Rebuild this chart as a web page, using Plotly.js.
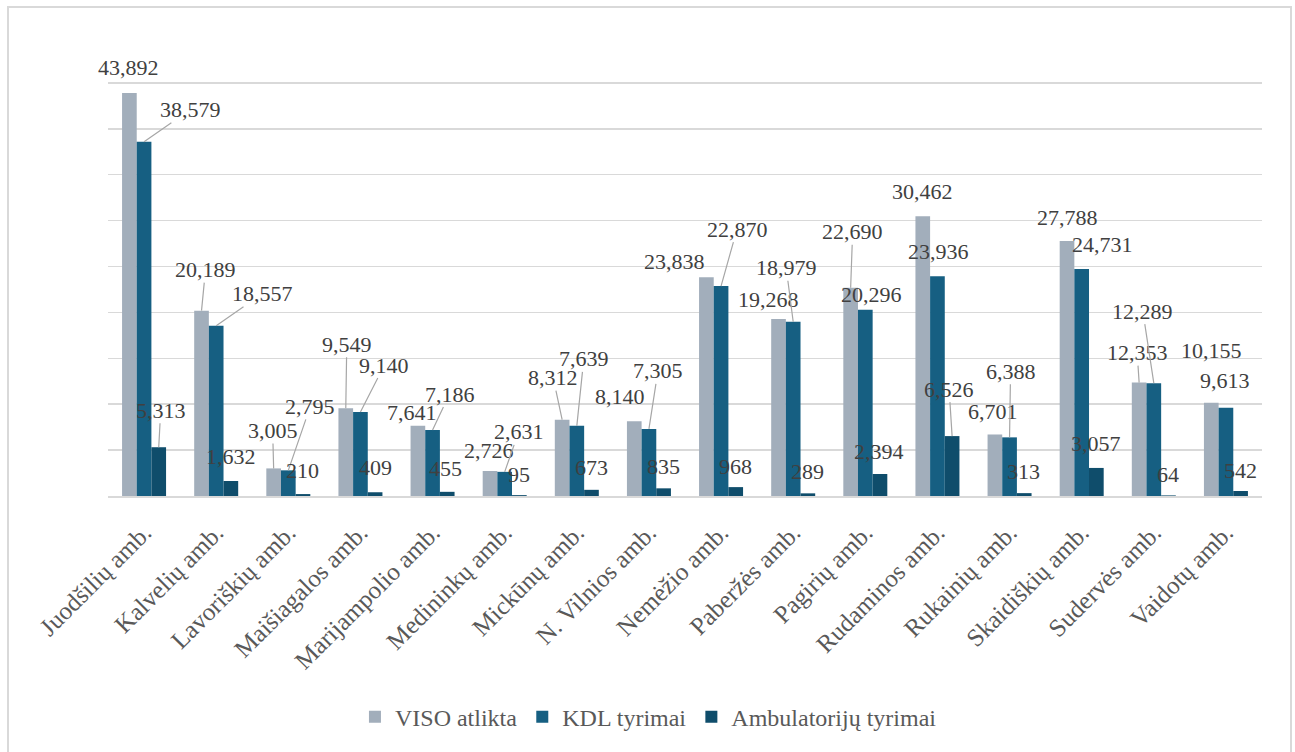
<!DOCTYPE html>
<html>
<head>
<meta charset="utf-8">
<script src="https://cdn.plot.ly/plotly-3.0.1.min.js"></script>
<style>
  html, body { margin:0; padding:0; background:#fff; }
  #chart { position:absolute; left:0; top:0; width:1295px; height:752px; }
  #frame { position:absolute; left:7px; top:6px; width:1281px; height:760px;
           border:2px solid #d9d9d9; pointer-events:none; }
</style>
</head>
<body>
<div id="chart"></div>
<div id="frame"></div>
<script>
// ---- data ----
const categories = ["Juodšilių amb.", "Kalvelių amb.", "Lavoriškių amb.", "Maišiagalos amb.",
  "Marijampolio amb.", "Medininkų amb.", "Mickūnų amb.", "N. Vilnios amb.", "Nemėžio amb.",
  "Paberžės amb.", "Pagirių amb.", "Rudaminos amb.", "Rukainių amb.", "Skaidiškių amb.",
  "Sudervės amb.", "Vaidotų amb."];
const visoAtlikta = [43892, 20189, 3005, 9549, 7641, 2726, 8312, 8140, 23838, 19268, 22690, 30462, 6701, 27788, 12353, 10155];
const kdlTyrimai = [38579, 18557, 2795, 9140, 7186, 2631, 7639, 7305, 22870, 18979, 20296, 23936, 6388, 24731, 12289, 9613];
const ambTyrimai = [5313, 1632, 210, 409, 455, 95, 673, 835, 968, 289, 2394, 6526, 313, 3057, 64, 542];
const seriesNames = ["VISO atlikta", "KDL tyrimai", "Ambulatorijų tyrimai"];

// ---- styling ----
const colors = ["#a2aebb", "#165f82", "#0f4d6b"];
const FONT = "Liberation Serif, serif";
const W = 1295, H = 752;
const M = {l:108, r:33, t:37, b:254};
const bargap = 0.39;

// label offsets (px) relative to the top-centre of each bar: [dx, dy, leader]
const labelOffsets = [
  [[-1,-26,0],[4,-41,1],[-1,-38,1],[1,-64,1],[-6,-13,0],[-1,-20,0],[-9,-42,1],[-14,-25,0],
   [-32,-16,0],[-10,-20,0],[2,-56,1],[0,-25,0],[-2,-23,0],[0,-23,0],[-2,-30,1],[0,-52,0]],
  [[46,-32,1],[46,-32,1],[22,-64,1],[24,-47,1],[17,-36,1],[14,-40,1],[7,-67,1],[9,-58,1],
   [16,-57,1],[-7,-54,1],[6,-15,0],[1,-25,0],[1,-66,1],[21,-24,0],[-11,-72,1],[-1,-27,0]],
  [[2,-37,1],[0,-25,0],[0,-24,0],[0,-25,0],[-2,-23,0],[0,-21,0],[0,-22,0],[0,-22,0],
   [0,-21,0],[0,-22,0],[-1,-23,0],[-3,-47,1],[-1,-22,0],[0,-24,0],[0,-21,0],[0,-21,0]]
];

const seriesValues = [visoAtlikta, kdlTyrimai, ambTyrimai];

const traces = seriesValues.map((vals, i) => ({
  type: "bar",
  name: seriesNames[i],
  x: categories,
  y: vals,
  marker: {color: colors[i]},
  hoverinfo: "x+y"
}));

const plotW = W - M.l - M.r;
const catW = plotW / categories.length;
const barW = catW * (1 - bargap) / 3;

const annotations = [];
seriesValues.forEach((vals, s) => {
  vals.forEach((v, c) => {
    const o = labelOffsets[s][c];
    annotations.push({
      x: categories[c], y: v, xref: "x", yref: "y",
      xshift: (s - 1) * barW,
      text: v.toLocaleString("en-US"),
      showarrow: true,
      ax: o[0], ay: o[1],
      arrowhead: 0, arrowwidth: 1.2, standoff: 0,
      arrowcolor: o[2] ? "#a6a6a6" : "rgba(0,0,0,0)",
      font: {family: FONT, size: 22, color: "#404040"},
      borderpad: 0
    });
  });
});

const layout = {
  width: W, height: H,
  margin: M,
  paper_bgcolor: "#ffffff",
  plot_bgcolor: "#ffffff",
  font: {family: FONT},
  barmode: "group",
  bargap: bargap,
  bargroupgap: 0,
  showlegend: true,
  legend: {
    orientation: "h", x: 0.214, xanchor: "left", y: -0.482, yanchor: "middle",
    font: {family: FONT, size: 24, color: "#595959"},
    traceorder: "normal"
  },
  xaxis: {
    type: "category",
    automargin: false,
    autorange: false,
    range: [-0.5, categories.length - 0.5],
    tickangle: -45,
    ticklabelstandoff: 10,
    tickfont: {family: FONT, size: 25, color: "#595959"},
    showline: true, linecolor: "#d9d9d9", linewidth: 2,
    ticks: "", showgrid: false
  },
  yaxis: {
    automargin: false,
    autorange: false,
    range: [0, 50000], dtick: 5000, tick0: 0,
    showticklabels: false,
    showgrid: true, gridcolor: "#d9d9d9", gridwidth: 1.5,
    zeroline: false, showline: false, ticks: ""
  },
  annotations: annotations
};

Plotly.newPlot("chart", traces, layout, {displayModeBar: false, staticPlot: true});
</script>
</body>
</html>
